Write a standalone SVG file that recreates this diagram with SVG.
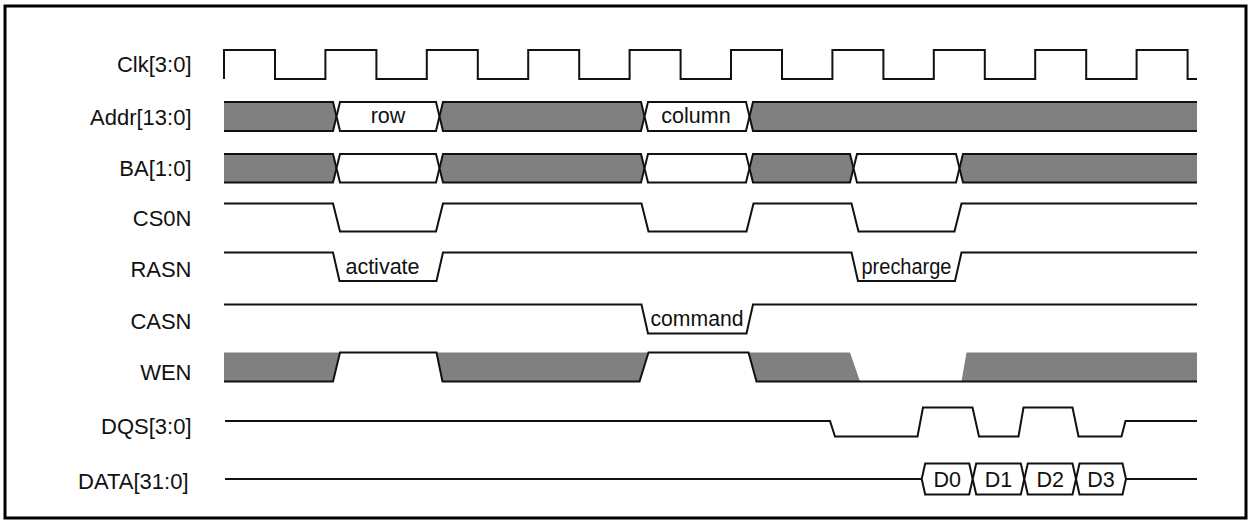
<svg xmlns="http://www.w3.org/2000/svg" width="1249" height="522" viewBox="0 0 1249 522">
<style>
.lbl{font-family:"Liberation Sans",Arial,sans-serif;font-size:22px;fill:#111;text-anchor:end}
.in{font-family:"Liberation Sans",Arial,sans-serif;font-size:21.5px;fill:#111;text-anchor:middle}
.sig{fill:none;stroke:#111;stroke-width:2;stroke-linejoin:miter}
.bg{fill:#808080;stroke:#111;stroke-width:2}
.bw{fill:#fff;stroke:#111;stroke-width:2}
.gf{fill:#808080;stroke:none}
</style>
<rect x="0" y="0" width="1249" height="522" fill="#fff"/>
<rect x="5" y="6" width="1241" height="512" fill="none" stroke="#000" stroke-width="3"/>

<g id="clk">
<text class="lbl" x="191.5" y="71.5">Clk[3:0]</text>
<path class="sig" d="M224,79 V50 H275 V79 H325.4 V50 H376.4 V79 H426.8 V50 H477.8 V79 H528.2 V50 H579.2 V79 H629.6 V50 H680.6 V79 H731 V50 H782 V79 H832.4 V50 H883.4 V79 H933.8 V50 H984.8 V79 H1035.2 V50 H1086.2 V79 H1136.6 V50 H1187.6 V79 H1197"/>
</g>

<g id="addr">
<text class="lbl" x="191.5" y="124.5">Addr[13:0]</text>
<path class="bg" d="M224,102 H333 L336.5,116.5 L333,131 H224"/>
<path class="bw" d="M340,102 H436 L439.5,116.5 L436,131 H340 L336.5,116.5 Z"/>
<path class="bg" d="M443,102 H641 L644.5,116.5 L641,131 H443 L439.5,116.5 Z"/>
<path class="bw" d="M648,102 H746 L749.5,116.5 L746,131 H648 L644.5,116.5 Z"/>
<path class="bg" d="M1197,102 H753 L749.5,116.5 L753,131 H1197"/>
<text class="in" x="388" y="123">row</text>
<text class="in" x="696" y="123">column</text>
</g>

<g id="ba">
<text class="lbl" x="191.5" y="175.5">BA[1:0]</text>
<path class="bg" d="M224,154 H333 L336.5,168.25 L333,182.5 H224"/>
<path class="bw" d="M340,154 H436 L439.5,168.25 L436,182.5 H340 L336.5,168.25 Z"/>
<path class="bg" d="M443,154 H641 L644.5,168.25 L641,182.5 H443 L439.5,168.25 Z"/>
<path class="bw" d="M648,154 H746 L749.5,168.25 L746,182.5 H648 L644.5,168.25 Z"/>
<path class="bg" d="M753,154 H850 L853.5,168.25 L850,182.5 H753 L749.5,168.25 Z"/>
<path class="bw" d="M857,154 H956 L959.5,168.25 L956,182.5 H857 L853.5,168.25 Z"/>
<path class="bg" d="M1197,154 H963 L959.5,168.25 L963,182.5 H1197"/>
</g>

<g id="cs0n">
<text class="lbl" x="191.5" y="226">CS0N</text>
<path class="sig" d="M224,203.5 H333 L340,231.5 H436 L443,203.5 H641.5 L648.5,231.5 H746.5 L753.5,203.5 H851.5 L858.5,231.5 H954.5 L961.5,203.5 H1197"/>
</g>

<g id="rasn">
<text class="lbl" x="191.5" y="276.5">RASN</text>
<path class="sig" d="M224,252.5 H333 L339.5,281 H436.5 L443,252.5 H851.5 L858,281 H955 L961.5,252.5 H1197"/>
<text class="in" x="382.5" y="273.5">activate</text>
<text class="in" x="906.5" y="273.5" textLength="90" lengthAdjust="spacingAndGlyphs">precharge</text>
</g>

<g id="casn">
<text class="lbl" x="191.5" y="329">CASN</text>
<path class="sig" d="M224,304.5 H641.5 L648,333.5 H746.5 L753,304.5 H1197"/>
<text class="in" x="697" y="325.5" textLength="93" lengthAdjust="spacingAndGlyphs">command</text>
</g>

<g id="wen">
<text class="lbl" x="191.5" y="380">WEN</text>
<path class="gf" d="M224,352.5 H340 L333,381.5 H224 Z"/>
<path class="gf" d="M436.5,352.5 H648.5 L639.5,381.5 H442.5 Z"/>
<path class="gf" d="M748.5,352.5 H850 L860,381.5 H756.5 Z"/>
<path class="gf" d="M966.5,352.5 H1197 V381.5 H961.5 Z"/>
<path class="sig" d="M224,381.5 H333 L340,352.5 H436.5 L442.5,381.5 H639.5 L648.5,352.5 H748.5 L756.5,381.5 H1197"/>
</g>

<g id="dqs">
<text class="lbl" x="191.5" y="434">DQS[3:0]</text>
<path class="sig" d="M225,421 H830 L835,436.5 H917.5 L923,407.5 H972.5 L979,436.5 H1018.5 L1023.5,407.5 H1072.5 L1078.5,436.5 H1121.5 L1125.5,421 H1197"/>
</g>

<g id="data">
<text class="lbl" x="188.5" y="488.5">DATA[31:0]</text>
<path class="sig" d="M225,479 H921.7 M1126,479 H1197"/>
<path class="bw" d="M925.2,463.5 H969.2 L972.7,479 L969.2,494.5 H925.2 L921.7,479 Z"/>
<path class="bw" d="M976.2,463.5 H1020.8 L1024.3,479 L1020.8,494.5 H976.2 L972.7,479 Z"/>
<path class="bw" d="M1027.8,463.5 H1072.5 L1076,479 L1072.5,494.5 H1027.8 L1024.3,479 Z"/>
<path class="bw" d="M1079.5,463.5 H1122.5 L1126,479 L1122.5,494.5 H1079.5 L1076,479 Z"/>
<text class="in" x="947.2" y="487">D0</text>
<text class="in" x="998.5" y="487">D1</text>
<text class="in" x="1050.2" y="487">D2</text>
<text class="in" x="1101" y="487">D3</text>
</g>
</svg>
